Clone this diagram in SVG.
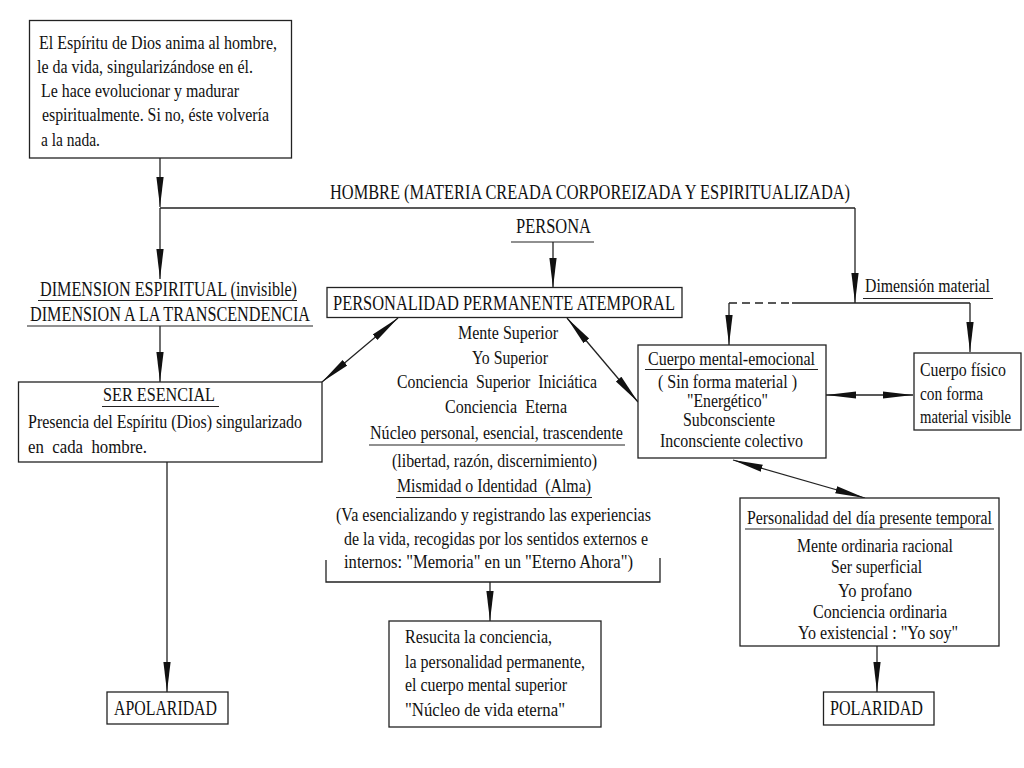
<svg xmlns="http://www.w3.org/2000/svg" width="1024" height="768" viewBox="0 0 1024 768">
<style>
text{font-family:"Liberation Serif","DejaVu Serif","Times New Roman",serif;fill:#111;}
.s{font-size:18px;}
.m{font-size:19px;}
.c{font-size:21px;}
.box{fill:#fff;stroke:#222;stroke-width:1.3;}
.ul{stroke:#222;stroke-width:1.2;fill:none;}
.ln{stroke:#222;stroke-width:1.3;fill:none;}
.pre{white-space:pre;}
</style>
<defs>
<marker id="ah" markerUnits="userSpaceOnUse" markerWidth="32" markerHeight="10" viewBox="0 0 32 10" refX="30" refY="5" orient="auto-start-reverse">
<path d="M0,1.4 L30,5 L0,8.6 Z" fill="#111"/>
</marker>
</defs>
<rect width="1024" height="768" fill="#fff"/>

<g id="connectors">
<path class="ln" d="M160,158 V207" marker-end="url(#ah)"/>
<path class="ln" d="M160,208 H855"/>
<path class="ln" d="M855,208 V303" marker-end="url(#ah)"/>
<path class="ln" d="M160,208 V279" marker-end="url(#ah)"/>
<path class="ln" d="M553,242 V288" marker-end="url(#ah)"/>
<path class="ln" d="M729,303 H792" stroke-dasharray="8,5"/>
<path class="ln" d="M792,303 H970"/>
<path class="ln" d="M729,303 V345" marker-end="url(#ah)"/>
<path class="ln" d="M970,303 V352" marker-end="url(#ah)"/>
<path class="ln" d="M160,326 V382" marker-end="url(#ah)"/>
<path class="ln" d="M322,382 L398,318" marker-start="url(#ah)" marker-end="url(#ah)"/>
<path class="ln" d="M567,318 L638,402" marker-start="url(#ah)" marker-end="url(#ah)"/>
<path class="ln" d="M826,395 H913" marker-start="url(#ah)" marker-end="url(#ah)"/>
<path class="ln" d="M733,460 L865,498" marker-start="url(#ah)" marker-end="url(#ah)"/>
<path class="ln" d="M167,462 V692" marker-end="url(#ah)"/>
<path class="ln" d="M326,560 V582 H660 V558"/>
<path class="ln" d="M490,582 V621" marker-end="url(#ah)"/>
<path class="ln" d="M877,646 V692" marker-end="url(#ah)"/>
</g>

<g id="n_top">
<rect class="box" x="29.5" y="20.5" width="262" height="137.5"/>
<text class="s" x="39" y="49" textLength="238" lengthAdjust="spacingAndGlyphs">El Espíritu de Dios anima al hombre,</text>
<text class="s" x="37" y="73" textLength="216" lengthAdjust="spacingAndGlyphs">le da vida, singularizándose en él.</text>
<text class="s" x="41" y="97" textLength="198" lengthAdjust="spacingAndGlyphs">Le hace evolucionar y madurar</text>
<text class="s" x="42" y="121" textLength="227" lengthAdjust="spacingAndGlyphs">espiritualmente. Si no, éste volvería</text>
<text class="s" x="41" y="146" textLength="59" lengthAdjust="spacingAndGlyphs">a la nada.</text>
</g>

<g id="n_hombre">
<text class="c" x="330" y="199" textLength="520" lengthAdjust="spacingAndGlyphs">HOMBRE (MATERIA CREADA CORPOREIZADA Y ESPIRITUALIZADA)</text>
</g>

<g id="n_persona">
<text class="c" x="516" y="233" textLength="75" lengthAdjust="spacingAndGlyphs">PERSONA</text>
<line class="ul" x1="511" y1="242" x2="594" y2="242"/>
</g>

<g id="n_dimension_espiritual">
<text class="c" x="40" y="296" textLength="257" lengthAdjust="spacingAndGlyphs">DIMENSION ESPIRITUAL (invisible)</text>
<line class="ul" x1="38" y1="300.5" x2="297" y2="300.5"/>
<text class="c" x="30" y="321" textLength="280" lengthAdjust="spacingAndGlyphs">DIMENSION A LA TRANSCENDENCIA</text>
<line class="ul" x1="27" y1="326" x2="313" y2="326" stroke-width="2"/>
</g>

<g id="n_personalidad_permanente">
<rect class="box" x="327" y="287.5" width="355" height="30"/>
<text class="c" x="333" y="310" textLength="342" lengthAdjust="spacingAndGlyphs">PERSONALIDAD PERMANENTE ATEMPORAL</text>
</g>

<g id="n_central">
<text class="s" x="458" y="339" textLength="100" lengthAdjust="spacingAndGlyphs">Mente Superior</text>
<text class="s" x="472" y="364" textLength="76" lengthAdjust="spacingAndGlyphs">Yo Superior</text>
<text class="s pre" x="397" y="388" textLength="200" lengthAdjust="spacingAndGlyphs">Conciencia  Superior  Iniciática</text>
<text class="s pre" x="445" y="413" textLength="122" lengthAdjust="spacingAndGlyphs">Conciencia  Eterna</text>
<text class="s" x="370" y="439" textLength="253" lengthAdjust="spacingAndGlyphs">Núcleo personal, esencial, trascendente</text>
<line class="ul" x1="369" y1="445" x2="625" y2="445"/>
<text class="s" x="392" y="467" textLength="205" lengthAdjust="spacingAndGlyphs">(libertad, razón, discernimiento)</text>
<text class="s pre" x="397" y="492" textLength="194" lengthAdjust="spacingAndGlyphs">Mismidad o Identidad  (Alma)</text>
<line class="ul" x1="396" y1="497.5" x2="592" y2="497.5"/>
<text class="s" x="336" y="521" textLength="315" lengthAdjust="spacingAndGlyphs">(Va esencializando y registrando las experiencias</text>
<text class="s" x="344" y="545" textLength="304" lengthAdjust="spacingAndGlyphs">de la vida, recogidas por los sentidos externos e</text>
<text class="s" x="344" y="568" textLength="289" lengthAdjust="spacingAndGlyphs">internos: "Memoria" en un "Eterno Ahora")</text>
</g>

<g id="n_dimension_material">
<text class="s" x="865" y="292" textLength="125" lengthAdjust="spacingAndGlyphs">Dimensión material</text>
<line class="ul" x1="863" y1="298.5" x2="993" y2="298.5"/>
</g>

<g id="n_cuerpo_mental">
<rect class="box" x="638" y="345" width="188" height="113"/>
<text class="s" x="648" y="365" textLength="167" lengthAdjust="spacingAndGlyphs">Cuerpo mental-emocional</text>
<line class="ul" x1="645" y1="369.5" x2="818" y2="369.5"/>
<text class="s" x="658" y="388" textLength="139" lengthAdjust="spacingAndGlyphs">( Sin forma material )</text>
<text class="s" x="687" y="407" textLength="81" lengthAdjust="spacingAndGlyphs">"Energético"</text>
<text class="s" x="683" y="426" textLength="92" lengthAdjust="spacingAndGlyphs">Subconsciente</text>
<text class="s" x="660" y="447" textLength="143" lengthAdjust="spacingAndGlyphs">Inconsciente colectivo</text>
</g>

<g id="n_cuerpo_fisico">
<rect class="box" x="914" y="353" width="107" height="77"/>
<text class="s" x="920" y="376" textLength="86" lengthAdjust="spacingAndGlyphs">Cuerpo físico</text>
<text class="s" x="920" y="400" textLength="63" lengthAdjust="spacingAndGlyphs">con forma</text>
<text class="s" x="920" y="423" textLength="91" lengthAdjust="spacingAndGlyphs">material visible</text>
</g>

<g id="n_ser_esencial">
<rect class="box" x="18.5" y="382" width="303.5" height="80"/>
<text class="m" x="103" y="401" textLength="112" lengthAdjust="spacingAndGlyphs">SER ESENCIAL</text>
<line class="ul" x1="102" y1="406.5" x2="219" y2="406.5"/>
<text class="s" x="28" y="428" textLength="274" lengthAdjust="spacingAndGlyphs">Presencia del Espíritu (Dios) singularizado</text>
<text class="s pre" x="28" y="453" textLength="119" lengthAdjust="spacingAndGlyphs">en  cada  hombre.</text>
</g>

<g id="n_apolaridad">
<rect class="box" x="107" y="692" width="121" height="32"/>
<text class="c" x="114" y="715" textLength="103" lengthAdjust="spacingAndGlyphs">APOLARIDAD</text>
</g>

<g id="n_resucita">
<rect class="box" x="389" y="621" width="212" height="106"/>
<text class="s" x="405" y="643" textLength="147" lengthAdjust="spacingAndGlyphs">Resucita la conciencia,</text>
<text class="s" x="405" y="668" textLength="180" lengthAdjust="spacingAndGlyphs">la personalidad permanente,</text>
<text class="s" x="405" y="691" textLength="162" lengthAdjust="spacingAndGlyphs">el cuerpo mental superior</text>
<text class="s" x="405" y="716" textLength="160" lengthAdjust="spacingAndGlyphs">"Núcleo de vida eterna"</text>
</g>

<g id="n_personalidad_dia">
<rect class="box" x="740" y="498" width="259" height="148"/>
<text class="s" x="747" y="524" textLength="245" lengthAdjust="spacingAndGlyphs">Personalidad del día presente temporal</text>
<line class="ul" x1="745" y1="529" x2="994" y2="529"/>
<text class="s" x="797" y="552" textLength="156" lengthAdjust="spacingAndGlyphs">Mente ordinaria racional</text>
<text class="s" x="831" y="573" textLength="91" lengthAdjust="spacingAndGlyphs">Ser superficial</text>
<text class="s" x="838" y="597" textLength="74" lengthAdjust="spacingAndGlyphs">Yo profano</text>
<text class="s" x="813" y="618" textLength="134" lengthAdjust="spacingAndGlyphs">Conciencia ordinaria</text>
<text class="s" x="798" y="639" textLength="160" lengthAdjust="spacingAndGlyphs">Yo existencial : "Yo soy"</text>
</g>

<g id="n_polaridad">
<rect class="box" x="823.5" y="692" width="110.5" height="33"/>
<text class="c" x="830" y="715" textLength="93" lengthAdjust="spacingAndGlyphs">POLARIDAD</text>
</g>
</svg>
